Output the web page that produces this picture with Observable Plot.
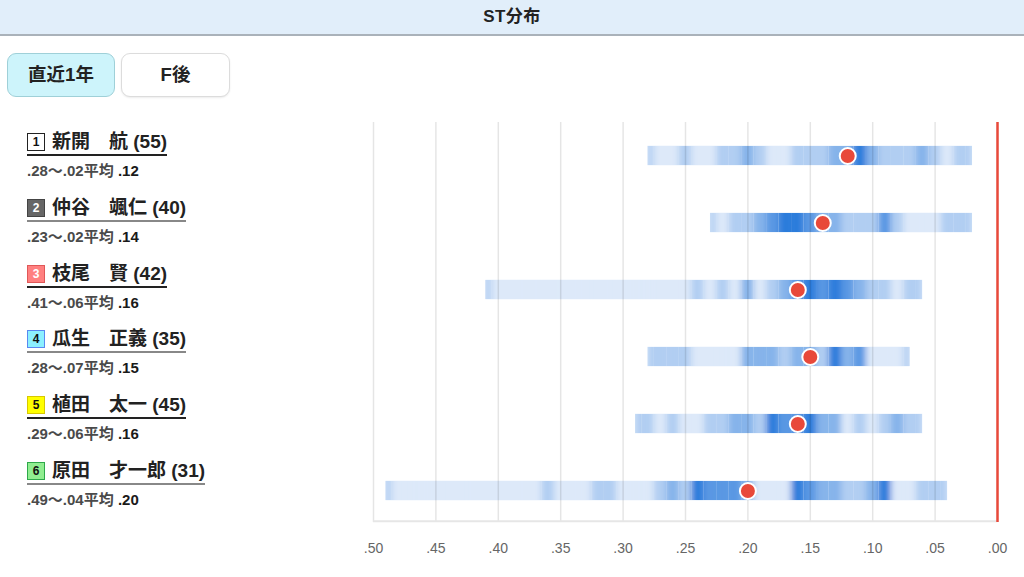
<!DOCTYPE html>
<html>
<head>
<meta charset="utf-8">
<script src="https://cdn.jsdelivr.net/npm/d3@7"></script>
<script src="https://cdn.jsdelivr.net/npm/@observablehq/plot@0.6"></script>
<style>
  html, body { margin: 0; padding: 0; background: #fff; }
  body { width: 1024px; height: 577px; position: relative; overflow: hidden;
         font-family: "Liberation Sans", Arial, "Noto Sans CJK JP", sans-serif; color: #222; }
  .header { position: absolute; left: 0; top: 0; width: 1024px; height: 34px; background: #e1eefa;
            border-bottom: 2px solid #aab2ba; text-align: center; line-height: 34px;
            font-weight: bold; font-size: 17px; letter-spacing: 0.5px; }
  .btn { position: absolute; top: 53px; height: 42px; border-radius: 9px; text-align: center;
         line-height: 42px; font-weight: bold; font-size: 18.5px; box-sizing: content-box; }
  .btn1 { left: 7px; width: 106px; background: #cdf4fb; border: 1px solid #9fd0d8; }
  .btn2 { left: 121px; width: 107px; background: #fff; border: 1px solid #dcdcdc; box-shadow: 0 1px 2px rgba(0,0,0,0.08); }
  .racer { position: absolute; left: 27px; }
  .nm { display: inline-block; font-weight: bold; font-size: 19px; line-height: 22px;
        padding-bottom: 1px; white-space: pre; }
  .box { display: inline-block; width: 16px; height: 16px; line-height: 16px; font-size: 12px;
         text-align: center; vertical-align: 2px; margin-right: 7px; font-weight: bold; }
  .st { font-weight: bold; font-size: 15px; color: #4a4a4a; margin-top: 3px; white-space: pre; }
  .st b { color: #1a1a1a; }
  #chart { position: absolute; left: 0; top: 110px; }
</style>
</head>
<body>
<div class="header">ST分布</div>
<div class="btn btn1">直近1年</div>
<div class="btn btn2">F後</div>
<div id="labels"></div>
<div id="chart"></div>
<script>
// ---- data ----
const racerNo = [1, 2, 3, 4, 5, 6];
const racerName = ["新開　航", "仲谷　颯仁", "枝尾　賢", "瓜生　正義", "植田　太一", "原田　才一郎"];
const racerAge = [55, 40, 42, 35, 45, 31];
const stMax = [0.28, 0.23, 0.41, 0.28, 0.29, 0.49];
const stMin = [0.02, 0.02, 0.06, 0.07, 0.06, 0.04];
const stAvg = [0.12, 0.14, 0.16, 0.15, 0.16, 0.20];
// density level per 0.01 bin, from stMax down to stMin
const density1 = [1,0,0,1,0,0,1,1,2,1,0,0,1,1,1,2,2,4,2,1,1,1,2,1,0,1,1];
const density2 = [1,0,1,1,2,3,4,4,3,2,2,1,1,1,3,1,0,0,0,1,1,1];
const density3 = [1,0,0,0,0,0,0,0,0,0,0,0,0,0,0,0,0,1,0,1,0,2,0,1,2,3,4,3,4,3,2,1,1,0,1,1];
const density4 = [1,1,1,1,0,0,0,0,2,2,2,1,2,2,1,4,2,3,0,0,0,1];
const density5 = [1,1,0,1,0,0,1,1,2,2,1,4,3,3,4,2,2,0,1,0,1,2,1,1];
const density6 = [1,0,0,0,0,0,0,0,0,0,0,0,0,1,0,0,0,1,1,0,0,0,1,2,1,4,3,3,3,2,0,0,0,4,3,2,2,1,1,2,4,0,0,1,1,1];
const densities = [density1, density2, density3, density4, density5, density6];
const xTicks = [0.5, 0.45, 0.4, 0.35, 0.3, 0.25, 0.2, 0.15, 0.1, 0.05, 0];

// ---- styles (not data) ----
const boxStyle = [
  {bg: "#ffffff", border: "#222", color: "#111"},
  {bg: "#666666", border: "#444", color: "#fff"},
  {bg: "#ff8080", border: "#e05858", color: "#fff"},
  {bg: "#8cf0ff", border: "#5a88f0", color: "#111"},
  {bg: "#ffff00", border: "#d8c800", color: "#111"},
  {bg: "#90ee90", border: "#2ea84a", color: "#111"}
];
const underline = ["#222", "#888", "#222", "#888", "#222", "#888"];

// ---- tables ----
const racers = racerNo.map((n, i) => ({id: n, max: stMax[i], min: stMin[i], avg: stAvg[i]}));
const bins = [];
racerNo.forEach((n, i) => {
  densities[i].forEach((lv, k) => {
    const st = Math.round((stMax[i] - k * 0.01) * 100) / 100;
    bins.push({id: n, st, level: lv, max: stMax[i], min: stMin[i]});
  });
});
const fmt = v => v.toFixed(2).replace(/^0/, "");

// ---- labels (HTML) ----
const lab = document.getElementById("labels");
racerNo.forEach((n, i) => {
  const d = document.createElement("div");
  d.className = "racer";
  d.style.top = (131 + i * 65.8) + "px";
  const s = boxStyle[i];
  d.innerHTML =
    `<div class="nm" style="border-bottom:2px solid ${underline[i]}"><span class="box" style="background:${s.bg};border:1px solid ${s.border};color:${s.color}">${n}</span>${racerName[i]} (${racerAge[i]})</div>` +
    `<div class="st">${fmt(stMax[i])}〜${fmt(stMin[i])}平均 <b>${fmt(stAvg[i])}</b></div>`;
  lab.appendChild(d);
});

// ---- chart ----
const H = 467;
const inset = 23.8;
const svg = Plot.plot({
  width: 1024,
  height: H,
  marginLeft: 373,
  marginRight: 27,
  marginTop: 12,
  marginBottom: 55,
  style: {fontFamily: "'Liberation Sans', Arial, sans-serif", background: "transparent"},
  x: {domain: [0.5, 0], axis: null},
  y: {type: "band", domain: racerNo, range: [10.2, 415.8], padding: 0, axis: null},
  color: {type: "linear", domain: [0, 4], range: ["#dde9f9", "#2c7cdb"], interpolate: "rgb"},
  marks: [
    Plot.barX(racers, {x1: "max", x2: "min", y: "id", fill: "#dde9f9", insetTop: inset, insetBottom: inset}),
    Plot.barX(bins, {
      x1: d => Math.min(d.st + 0.005, d.max),
      x2: d => Math.max(d.st - 0.005, d.min),
      y: "id", fill: "level", insetTop: inset, insetBottom: inset, ariaLabel: "bins"
    }),
    Plot.ruleX(xTicks, {stroke: "#000", strokeOpacity: 0.1, strokeWidth: 1.5}),
    Plot.ruleY([racerNo[racerNo.length - 1]], {y: d => d, dy: 30.2, stroke: "#e6e6e6", strokeWidth: 2}),
    Plot.ruleX([0], {stroke: "#e8493a", strokeWidth: 2.5}),
    Plot.axisX({ticks: xTicks, tickFormat: fmt, tickSize: 0, tickPadding: 21, fontSize: 14, color: "#666"}),
    Plot.dot(racers, {x: "avg", y: "id", r: 8, fill: "#e8493a", stroke: "#fff", strokeWidth: 2})
  ]
});
// soft horizontal blending of the density bins
const s = d3.select(svg);
const defs = s.insert("defs", ":first-child");
const f = defs.append("filter").attr("id", "hblur")
  .attr("filterUnits", "userSpaceOnUse")
  .attr("x", 0).attr("y", 0).attr("width", 1024).attr("height", H);
f.append("feGaussianBlur").attr("in", "SourceGraphic").attr("stdDeviation", "3 0.3").attr("result", "b");
f.append("feComposite").attr("in", "b").attr("in2", "SourceGraphic").attr("operator", "in");
const g = svg.querySelector('g[aria-label="bins"]') || s.selectAll("g").filter(function() {
  return this.querySelectorAll("rect").length === bins.length;
}).node();
if (g) g.setAttribute("filter", "url(#hblur)");
document.getElementById("chart").appendChild(svg);
</script>
</body>
</html>
